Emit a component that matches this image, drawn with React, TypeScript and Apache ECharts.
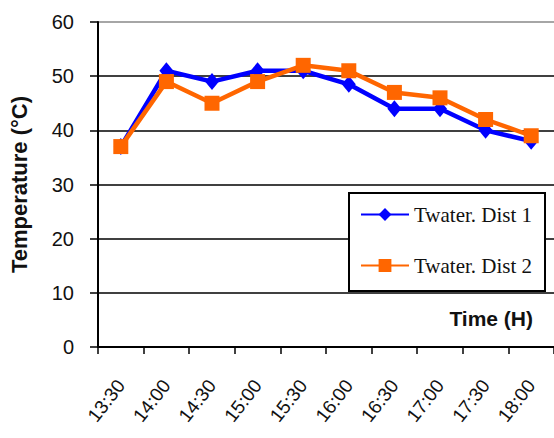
import React, { useEffect, useRef } from "react";
import * as echarts from "echarts";

const categories = ["13:30", "14:00", "14:30", "15:00", "15:30", "16:00", "16:30", "17:00", "17:30", "18:00"];
const dist1 = [37, 51, 49, 51, 51, 48.5, 44, 44, 40, 38];
const dist2 = [37, 49, 45, 49, 52, 51, 47, 46, 42, 39];
const seriesNames = ["Twater. Dist 1", "Twater. Dist 2"];
const yAxisTitle = "Temperature (°C)";
const xAxisTitle = "Time (H)";

export default function App() {
  const ref = useRef<HTMLDivElement>(null);
  useEffect(() => {
    if (!ref.current) return;
    const chart = echarts.init(ref.current, null, { renderer: "svg" });
    chart.setOption({
      animation: false,
      backgroundColor: "#fff",
      grid: { left: 94, top: 22, width: 466, height: 325, containLabel: false },
      xAxis: {
        type: "category",
        data: categories,
        boundaryGap: true,
        axisLine: { lineStyle: { color: "#000", width: 2 } },
        axisTick: { show: true, length: 7, lineStyle: { color: "#000", width: 1.5 } },
        axisLabel: {
          rotate: 52,
          margin: 35,
          fontSize: 19,
          fontFamily: "Liberation Sans, Arial",
          color: "#111",
        },
      },
      yAxis: {
        type: "value",
        min: 0,
        max: 60,
        interval: 10,
        name: yAxisTitle,
        nameLocation: "middle",
        nameGap: 68,
        nameRotate: 90,
        nameTextStyle: { fontSize: 22, fontWeight: "bold", fontFamily: "Liberation Sans, Arial", color: "#111" },
        axisLine: { show: true, lineStyle: { color: "#000", width: 2 } },
        axisTick: { show: true, inside: false, length: 8, lineStyle: { color: "#000", width: 1.5 } },
        axisLabel: { margin: 24, fontSize: 20, fontFamily: "Liberation Sans, Arial", color: "#111" },
        splitLine: {
          show: true,
          lineStyle: { color: ["#000", "#000", "#000", "#000", "#000", "#000", "#888"], width: 1.5 },
        },
      },
      legend: {
        orient: "vertical",
        left: 360,
        top: 204,
        padding: 0,
        itemGap: 30,
        itemWidth: 48,
        itemHeight: 16,
        z: 10,
        textStyle: { fontSize: 21, fontFamily: "Liberation Serif, Times New Roman", color: "#111" },
        data: seriesNames,
      },
      graphic: [
        {
          type: "rect",
          z: 5,
          shape: { x: 349, y: 193, width: 196, height: 98 },
          style: { fill: "#fff", stroke: "#000", lineWidth: 2 },
        },
        {
          type: "text",
          z: 5,
          x: 533,
          y: 318,
          style: {
            text: xAxisTitle,
            align: "right",
            verticalAlign: "middle",
            fontSize: 21,
            fontWeight: "bold",
            fontFamily: "Liberation Sans, Arial",
            fill: "#111",
          },
        },
      ],
      series: [
        {
          name: seriesNames[0],
          type: "line",
          data: dist1,
          symbol: "diamond",
          symbolSize: [14, 17],
          lineStyle: { color: "#0000ff", width: 4.5 },
          itemStyle: { color: "#0000ff" },
          z: 2,
        },
        {
          name: seriesNames[1],
          type: "line",
          data: dist2,
          symbol: "rect",
          symbolSize: 15,
          lineStyle: { color: "#ff6600", width: 4.5 },
          itemStyle: { color: "#ff6600" },
          z: 3,
        },
      ],
    });
    return () => chart.dispose();
  }, []);
  return <div ref={ref} style={{ position: "fixed", left: 0, top: 0, width: 554, height: 438 }} />;
}
